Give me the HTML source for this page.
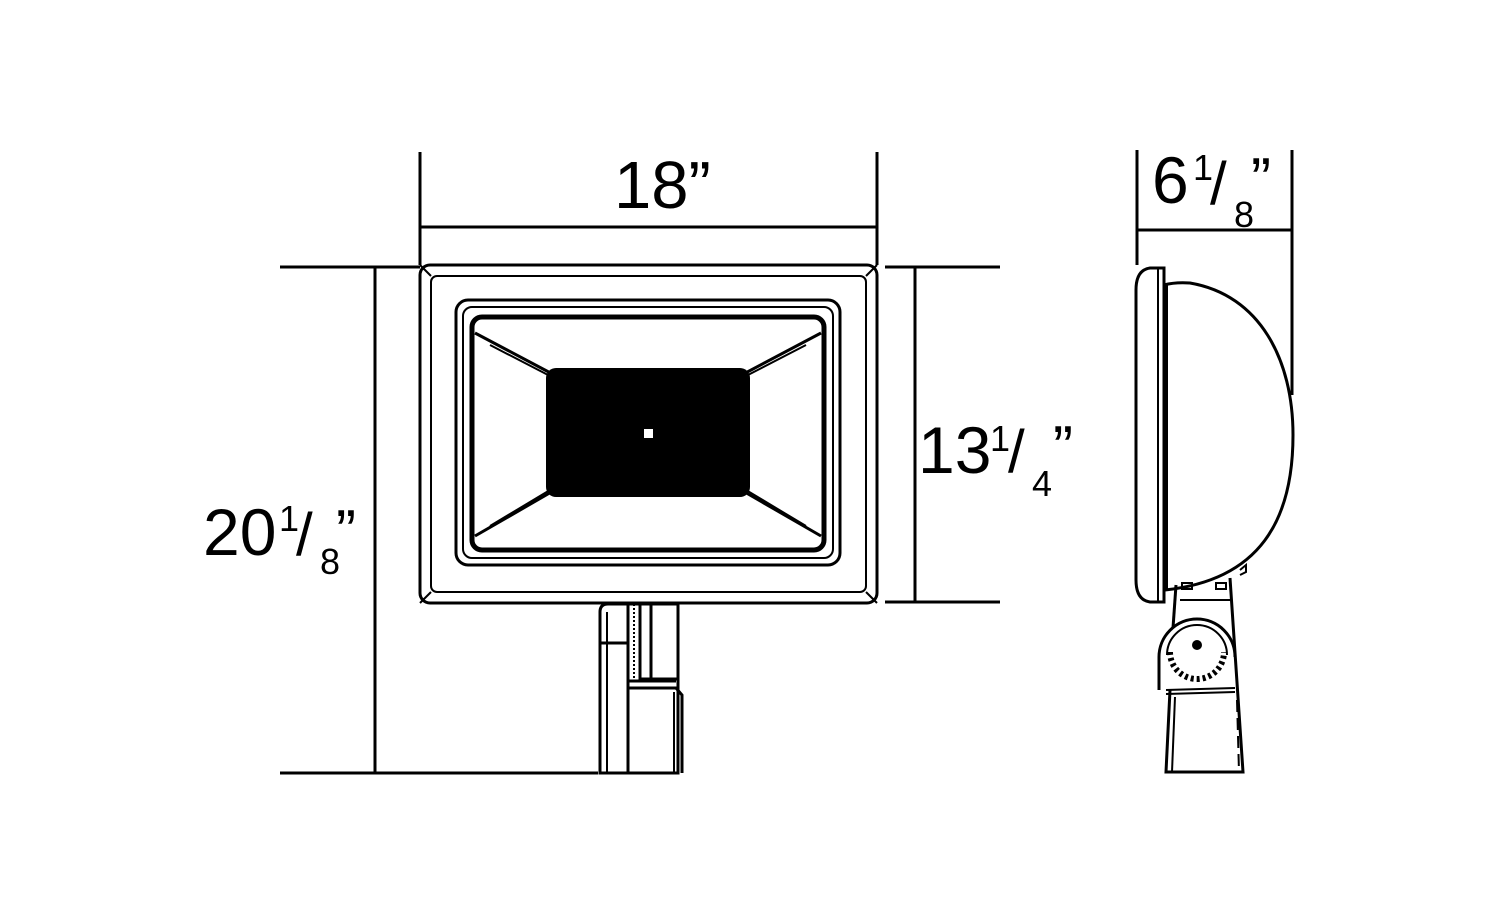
<!DOCTYPE html>
<html><head><meta charset="utf-8"><style>body{margin:0;background:#fff}svg{display:block}</style></head><body>
<svg width="1497" height="900" viewBox="0 0 1497 900" xmlns="http://www.w3.org/2000/svg" font-family="Liberation Sans, sans-serif" fill="none" stroke="#000">
<!-- dimension lines -->
<g stroke-width="3">
<line x1="420" y1="152" x2="420" y2="265"/><line x1="877" y1="152" x2="877" y2="265"/>
<line x1="420" y1="227" x2="877" y2="227"/>
<line x1="280" y1="267" x2="420" y2="267"/><line x1="280" y1="773" x2="598" y2="773"/>
<line x1="375" y1="267" x2="375" y2="773"/>
<line x1="885" y1="267" x2="1000" y2="267"/><line x1="885" y1="602" x2="1000" y2="602"/>
<line x1="915" y1="267" x2="915" y2="602"/>
<line x1="1137" y1="150" x2="1137" y2="265"/><line x1="1292" y1="150" x2="1292" y2="395"/>
<line x1="1137" y1="230" x2="1292" y2="230"/>
</g>
<!-- texts -->
<g fill="#000" stroke="none">
<text x="614" y="208" font-size="67">18”</text>
<text x="203" y="555" font-size="66">20</text>
<text x="279" y="531" font-size="36">1</text>
<text x="296" y="555" font-size="60">/</text>
<text x="320" y="574" font-size="36">8</text>
<text x="336" y="552" font-size="60">”</text>
<text x="918" y="473" font-size="66">13</text>
<text x="990" y="451" font-size="36">1</text>
<text x="1008" y="472" font-size="60">/</text>
<text x="1032" y="496" font-size="36">4</text>
<text x="1053" y="468" font-size="60">”</text>
<text x="1152" y="203" font-size="66">6</text>
<text x="1193" y="180" font-size="36">1</text>
<text x="1210" y="204" font-size="60">/</text>
<text x="1234" y="227" font-size="36">8</text>
<text x="1251" y="200" font-size="60">”</text>
</g>
<!-- front view -->
<g stroke-width="3">
<rect x="420" y="265" width="457" height="338" rx="10"/>
<rect x="431" y="276" width="435" height="316" rx="6" stroke-width="2"/>
<line x1="420" y1="265" x2="431" y2="276" stroke-width="2"/><line x1="877" y1="265" x2="866" y2="276" stroke-width="2"/>
<line x1="420" y1="603" x2="431" y2="592" stroke-width="2"/><line x1="877" y1="603" x2="866" y2="592" stroke-width="2"/>
<rect x="456" y="300" width="384" height="265" rx="12"/>
<rect x="463" y="307" width="370" height="251" rx="9" stroke-width="2"/>
<rect x="472" y="317" width="352" height="233" rx="10" stroke-width="5"/>
<line x1="475" y1="333" x2="560" y2="378"/><line x1="821" y1="333" x2="736" y2="378"/>
<line x1="475" y1="536" x2="560" y2="487"/><line x1="821" y1="536" x2="736" y2="487"/>
<line x1="490" y1="345" x2="550" y2="376" stroke-width="2"/><line x1="806" y1="345" x2="746" y2="376" stroke-width="2"/>
<line x1="490" y1="526" x2="550" y2="490" stroke-width="2"/><line x1="806" y1="526" x2="746" y2="490" stroke-width="2"/>
</g>
<rect x="546" y="368" width="204" height="129" rx="10" fill="#000" stroke="none"/>
<rect x="643" y="428" width="11" height="11" fill="#fff" stroke="#000" stroke-width="2"/>
<!-- front bracket -->
<g stroke-width="3">
<path d="M600 773 V612 Q600 604 608 604 H678 V773 Z"/>
<line x1="607" y1="612" x2="607" y2="773" stroke-width="2"/>
<line x1="600" y1="643" x2="628" y2="643"/>
<line x1="628" y1="604" x2="628" y2="773"/>
<line x1="634" y1="604" x2="634" y2="680" stroke-width="2" stroke-dasharray="2 2"/>
<rect x="640" y="604" width="38" height="75"/>
<line x1="651" y1="604" x2="651" y2="679"/>
<path d="M628 688 H676 L682 695 V773" />
<line x1="628" y1="681" x2="676" y2="681"/>
<line x1="674" y1="692" x2="674" y2="773" stroke-width="2"/>
</g>
<!-- side view -->
<g stroke-width="3">
<path d="M1164 268 H1150 Q1136 270 1136 290 V580 Q1136 600 1150 602 H1164 Z"/>
<line x1="1158" y1="268" x2="1158" y2="602" stroke-width="2"/>
<path d="M1164 285 Q1175 282 1190 283 C1260 295 1293 360 1293 435 C1293 520 1260 580 1165 590" />
<line x1="1166" y1="285" x2="1166" y2="590" stroke-width="4"/>
<path d="M1240 570 L1246 565 V572 L1240 575" stroke-width="2"/>
<line x1="1176" y1="585" x2="1173" y2="628"/>
<path d="M1230 578 L1243 772 H1166 L1170 690"/>
<line x1="1180" y1="600" x2="1230" y2="600" stroke-width="2"/>
<rect x="1182" y="583" width="10" height="6" stroke-width="2"/>
<rect x="1216" y="583" width="10" height="6" stroke-width="2"/>
<path d="M1159 690 V657 A38 38 0 0 1 1235 657"/>
<path d="M1167 655 A30 30 0 0 1 1227 655" stroke-width="2"/>
<path d="M1170 652 A27 27 0 0 0 1224 652" stroke-width="6" stroke-dasharray="3 3"/>
<line x1="1166" y1="690" x2="1235" y2="688" stroke-width="2"/>
<line x1="1166" y1="694" x2="1235" y2="692" stroke-width="2"/>
<line x1="1175" y1="697" x2="1172" y2="772" stroke-width="2"/>
<line x1="1237" y1="700" x2="1239" y2="772" stroke-width="2" stroke-dasharray="12 6"/>
</g>
<circle cx="1197" cy="645" r="5" fill="#000" stroke="none"/>
</svg>
</body></html>
